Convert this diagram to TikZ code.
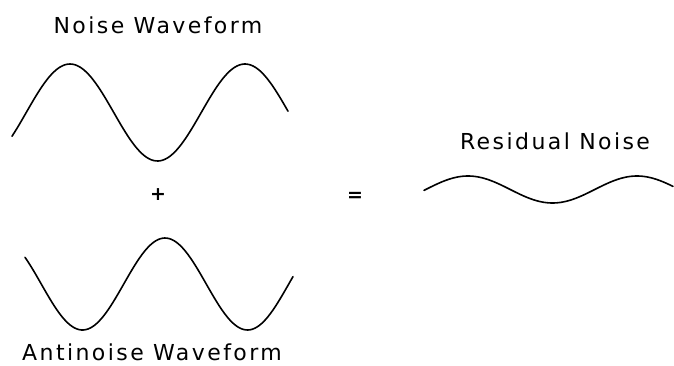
\documentclass[tikz,border=0pt]{standalone}
\usepackage{fontspec}
\setmainfont{DejaVu Sans}
\usepackage{tikz}

\begin{document}
\begin{tikzpicture}[x=1pt, y=1pt,
  wave/.style={line width=1.6pt, black, smooth, samples=120, line cap=round},
  lbl/.style={font=\fontsize{22}{26}\selectfont\addfontfeature{LetterSpace=11}, inner sep=0pt, anchor=base},
  sign/.style={font=\fontsize{19}{22}\selectfont\bfseries, inner sep=0pt},
]
\useasboundingbox (0,0) rectangle (674,365);

% === Noise waveform (top) ===
\node[lbl] (noiselbl) at (158, 331) {Noise Waveform};
\draw[wave] plot[domain=12:288] (\x, {252.5 + 48.5*cos((\x-70)/175*360)});

% === Plus sign ===
\node[sign] (plus) at (158, 170) {+};

% === Antinoise waveform (bottom) ===
\draw[wave] plot[domain=25:293] (\x, {81 + 46*cos((\x-165)/165*360)});
\node[lbl] (antilbl) at (152, 5) {Antinoise Waveform};

% === Equals sign ===
\node[sign] (equals) at (355, 168) {=};

% === Residual noise (right) ===
\node[lbl] (residlbl) at (555, 216) {Residual Noise};
\draw[wave] plot[domain=424:673] (\x, {175.5 + 13.5*cos((\x-468)/169*360)});

\end{tikzpicture}
\end{document}
